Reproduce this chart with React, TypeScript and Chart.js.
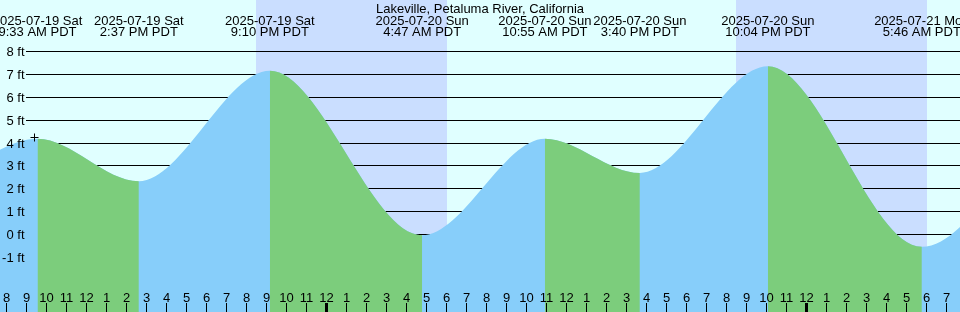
import React, { useEffect, useRef } from "react";
import { Chart, registerables } from "chart.js";

Chart.register(...registerables);

// Hours since 2025-07-19 00:00 PDT, and water level in feet (tide extremes)
const tideHours = [3.0, 9.55, 14.617, 21.167, 28.783, 34.917, 39.667, 46.067, 53.767, 59.6];
const tideFeet = [0.7, 4.19, 2.33, 7.16, -0.03, 4.19, 2.69, 7.35, -0.54, 4.3];

// Labelled events (visible highs and lows)
const eventHours = [9.55, 14.617, 21.167, 28.783, 34.917, 39.667, 46.067, 53.767];
const eventDates = [
  "2025-07-19 Sat",
  "2025-07-19 Sat",
  "2025-07-19 Sat",
  "2025-07-20 Sun",
  "2025-07-20 Sun",
  "2025-07-20 Sun",
  "2025-07-20 Sun",
  "2025-07-21 Mon",
];
const eventTimes = [
  "9:33 AM PDT",
  "2:37 PM PDT",
  "9:10 PM PDT",
  "4:47 AM PDT",
  "10:55 AM PDT",
  "3:40 PM PDT",
  "10:04 PM PDT",
  "5:46 AM PDT",
];

// Night (sunset -> sunrise), hours since 2025-07-19 00:00
const nightStart = [20.483, 44.467];
const nightEnd = [30.033, 54.033];

// "now" marker
const markerHour = [9.4];
const markerFeet = [4.24];

const feetTicks = [8, 7, 6, 5, 4, 3, 2, 1, 0, -1];
const title = "Lakeville, Petaluma River, California";

const X_MIN = 7.675;
const X_MAX = 55.675;
const Y_MIN = -3.388;
const Y_MAX = 10.2514;

const DAY = "#e0ffff";
const NIGHT = "#cadeff";
const RISING = "#87cefa";
const FALLING = "#7ccd7c";
const FONT = '13px "Liberation Sans", Arial, sans-serif';

const overlay = {
  id: "overlay",
  beforeDraw(chart: any) {
    const { ctx, width, height } = chart;
    const xs = chart.scales.x;
    ctx.save();
    ctx.fillStyle = DAY;
    ctx.fillRect(0, 0, width, height);
    ctx.fillStyle = NIGHT;
    for (let i = 0; i < nightStart.length; i++) {
      const x0 = Math.round(xs.getPixelForValue(nightStart[i]));
      const x1 = Math.round(xs.getPixelForValue(nightEnd[i]));
      ctx.fillRect(x0, 0, x1 - x0, height);
    }
    ctx.restore();
  },
  beforeDatasetsDraw(chart: any) {
    const { ctx, width } = chart;
    const ys = chart.scales.y;
    ctx.save();
    ctx.strokeStyle = "#000";
    ctx.lineWidth = 1;
    ctx.beginPath();
    for (const f of feetTicks) {
      const y = Math.floor(ys.getPixelForValue(f)) + 0.5;
      ctx.moveTo(26, y);
      ctx.lineTo(width, y);
    }
    ctx.stroke();
    ctx.restore();
  },
  afterDatasetsDraw(chart: any) {
    const { ctx, width, height } = chart;
    const xs = chart.scales.x;
    const ys = chart.scales.y;
    ctx.save();
    ctx.fillStyle = "#000";
    ctx.font = FONT;

    // y labels
    ctx.textAlign = "right";
    ctx.textBaseline = "alphabetic";
    for (const f of feetTicks) {
      const y = Math.floor(ys.getPixelForValue(f)) + 0.5;
      ctx.fillText(`${f} ft`, 24.5, y + 4.8);
    }

    // title + event labels
    ctx.textAlign = "center";
    ctx.fillText(title, width / 2, 12.5);
    for (let i = 0; i < eventHours.length; i++) {
      const x = xs.getPixelForValue(eventHours[i]);
      ctx.fillText(eventDates[i], x, 24.5);
      ctx.fillText(eventTimes[i], x, 36);
    }

    // hour ticks
    const h0 = Math.ceil(X_MIN);
    const h1 = Math.floor(X_MAX);
    for (let h = h0; h <= h1; h++) {
      const x = Math.floor(xs.getPixelForValue(h));
      if (h % 24 === 0) ctx.fillRect(x - 1, 303, 3, height - 303);
      else ctx.fillRect(x, 303, 1, height - 303);
      const hr = h % 12 === 0 ? 12 : h % 12;
      ctx.fillText(String(hr), x + 0.5, 302);
    }
    ctx.restore();
  },
};

const tidePoints = () => tideHours.map((h, i) => ({ x: h, y: tideFeet[i] }));

export default function App() {
  const ref = useRef<HTMLCanvasElement>(null);
  useEffect(() => {
    document.body.style.margin = "0";
    const canvas = ref.current!;
    const chart = new Chart(canvas, {
      type: "line",
      data: {
        datasets: [
          {
            type: "scatter",
            data: markerHour.map((h, i) => ({ x: h, y: markerFeet[i] })),
            pointStyle: "cross",
            pointRadius: 4,
            pointHoverRadius: 4,
            pointBorderColor: "#000",
            pointBorderWidth: 1,
            pointBackgroundColor: "#000",
            showLine: false,
            order: 0,
          } as any,
          // falling segments (green) on top
          {
            data: tidePoints(),
            cubicInterpolationMode: "monotone",
            fill: "start",
            backgroundColor: FALLING,
            borderColor: "rgba(0,0,0,0)",
            borderWidth: 0,
            pointRadius: 0,
            pointHoverRadius: 0,
            order: 1,
            segment: {
              backgroundColor: (c: any) =>
                c.p1.parsed.y > c.p0.parsed.y ? "rgba(0,0,0,0)" : FALLING,
            },
          } as any,
          // whole water body (rising colour) underneath
          {
            data: tidePoints(),
            cubicInterpolationMode: "monotone",
            fill: "start",
            backgroundColor: RISING,
            borderColor: "rgba(0,0,0,0)",
            borderWidth: 0,
            pointRadius: 0,
            pointHoverRadius: 0,
            order: 2,
          } as any,
        ],
      },
      options: {
        animation: false,
        responsive: false,
        devicePixelRatio: 1,
        layout: { padding: 0, autoPadding: false },
        plugins: {
          legend: { display: false },
          tooltip: { enabled: false },
          title: { display: false },
        },
        scales: {
          x: { type: "linear", min: X_MIN, max: X_MAX, display: false },
          y: { type: "linear", min: Y_MIN, max: Y_MAX, display: false },
        },
        events: [],
      },
      plugins: [overlay],
    });
    return () => chart.destroy();
  }, []);
  return (
    <canvas
      ref={ref}
      width={960}
      height={312}
      style={{ display: "block", width: 960, height: 312 }}
    />
  );
}
